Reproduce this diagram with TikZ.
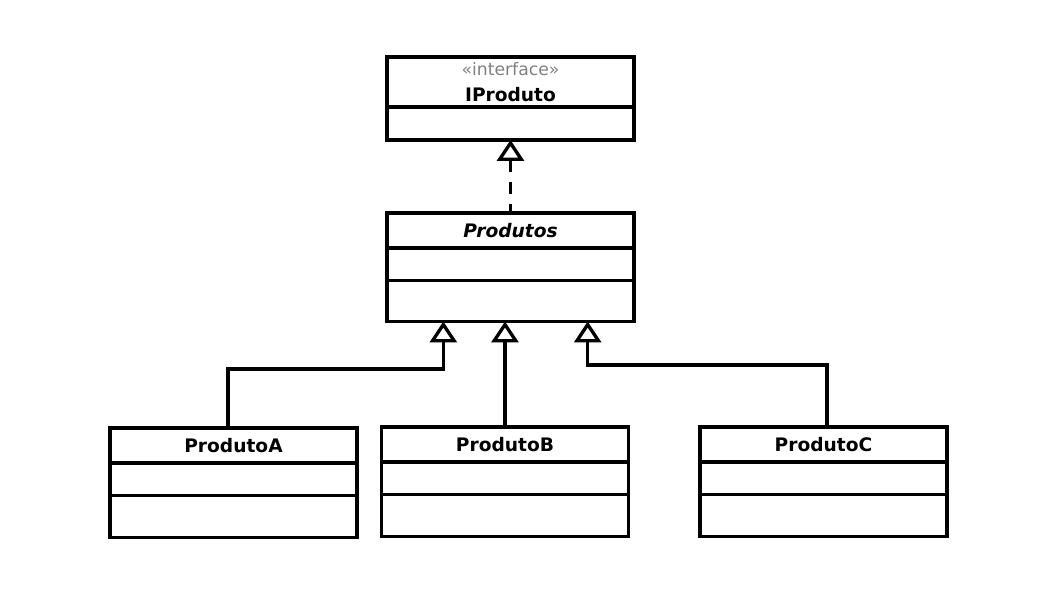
\documentclass[tikz,border=0pt]{standalone}
\usepackage{fontspec}
\setmainfont{DejaVu Sans}
\usetikzlibrary{arrows.meta, positioning}
\definecolor{stereogray}{RGB}{128,128,128}

\begin{document}
\begin{tikzpicture}[
  x=0.02cm, y=-0.02cm,
  cls/.style={rectangle, draw, line width=1.9pt, outer sep=0pt, inner sep=0pt, minimum width=4.94cm, align=center, font=\fontsize{10.6}{13.5}\selectfont\bfseries},
  head/.style={cls, minimum height=0.7cm},
  attr/.style={cls, minimum height=0.65cm},
  oper/.style={cls, minimum height=0.84cm},
  gen/.style={-{Triangle[open, length=0.42cm, width=0.54cm]}, line width=1.9pt},
  real/.style={{Triangle[open, length=0.42cm, width=0.54cm]}-, line width=1.9pt, dash pattern=on 0.24cm off 0.2cm}
]
  \useasboundingbox (0,0) rectangle (1057,595);
  % interface
  \node[cls, minimum height=1cm] (iprod) at (510.5,82) {{\mdseries\fontsize{9.8}{13.5}\selectfont\color{stereogray}«interface»}\\[1pt]IProduto};
  \node[cls, minimum height=0.66cm, below=0pt of iprod] (iprod-op) {};
  % abstract class
  \node[head] (prod) at (510.5,230.5) {\itshape Produtos};
  \node[attr, below=0pt of prod] (prod-att) {};
  \node[oper, below=0pt of prod-att, minimum height=0.82cm] (prod-op) {};
  \draw[real] (iprod-op.south) -- (prod.north);
  % concrete classes
  \node[head] (prodA) at (233.5,445.5) {ProdutoA};
  \node[attr, below=0pt of prodA] (prodA-att) {};
  \node[oper, below=0pt of prodA-att] (prodA-op) {};
  \node[head] (prodB) at (505,444.5) {ProdutoB};
  \node[attr, below=0pt of prodB] (prodB-att) {};
  \node[oper, below=0pt of prodB-att] (prodB-op) {};
  \node[head] (prodC) at (823.5,444.5) {ProdutoC};
  \node[attr, below=0pt of prodC] (prodC-att) {};
  \node[oper, below=0pt of prodC-att] (prodC-op) {};
  % generalisations
  \coordinate (jA) at (228,369);
  \coordinate (jC) at (827,365);
  \draw[gen] (prodA.north -| jA) -- (jA) -| ([xshift=-1.344cm]prod-op.south);
  \draw[gen] (prodB.north) -- (prodB.north |- prod-op.south);
  \draw[gen] (prodC.north -| jC) -- (jC) -| ([xshift=1.544cm]prod-op.south);
\end{tikzpicture}
\end{document}
